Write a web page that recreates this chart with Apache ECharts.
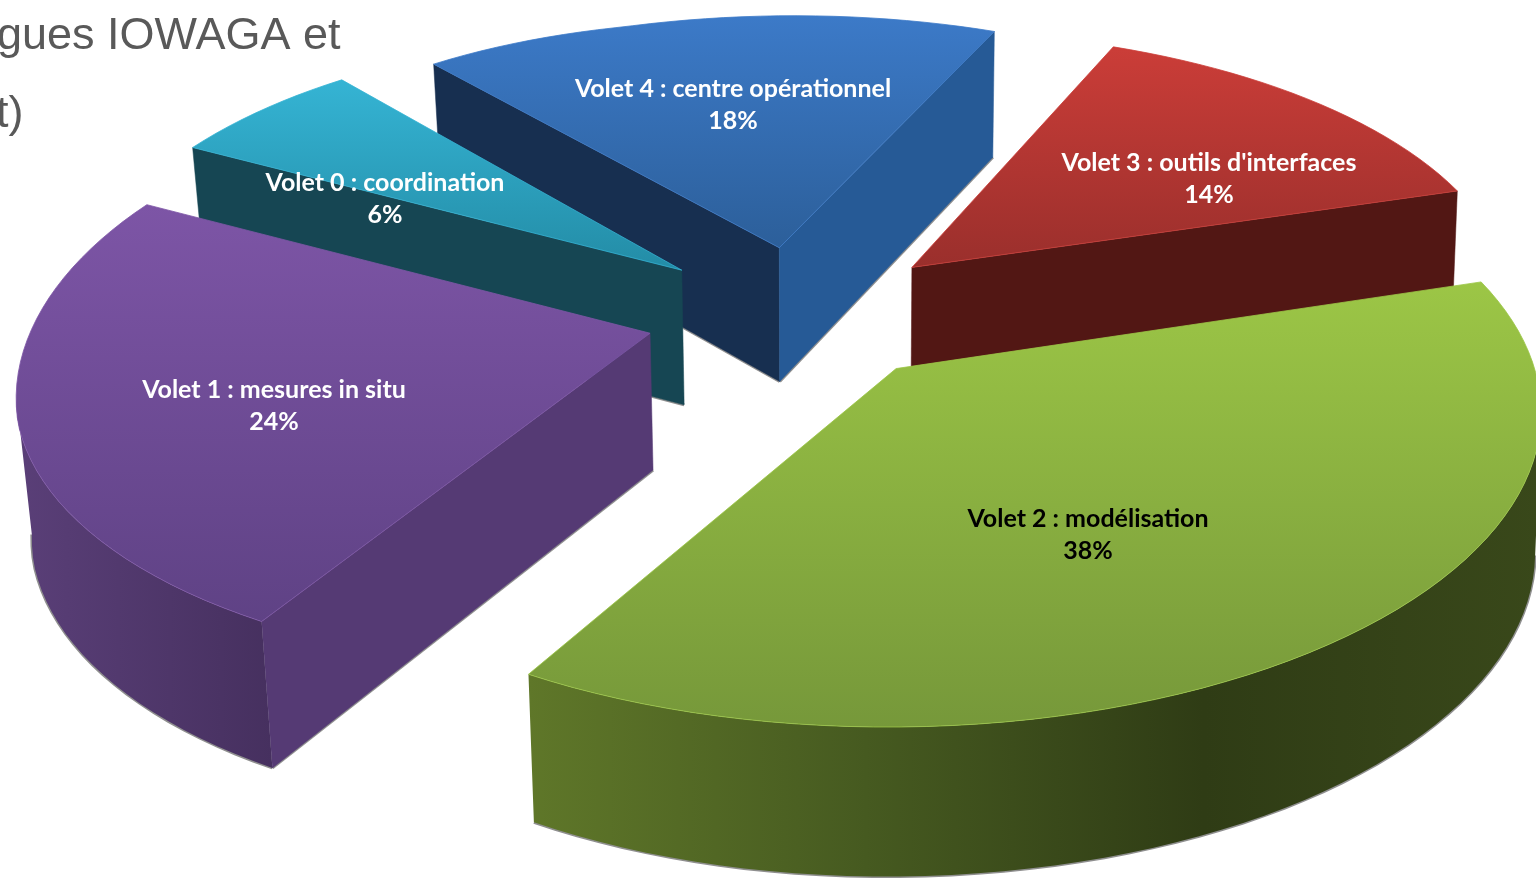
<!DOCTYPE html>
<html><head><meta charset="utf-8">
<style>html,body{margin:0;padding:0;background:#fff;overflow:hidden}#c{width:1536px;height:878px}</style>
<script src="https://cdn.jsdelivr.net/npm/echarts@6/dist/echarts.min.js"></script>
</head><body><div id="c"></div>
<script>
// ---- data ----
const categories = ["Volet 0 : coordination","Volet 1 : mesures in situ","Volet 2 : modélisation","Volet 3 : outils d'interfaces","Volet 4 : centre opérationnel"];
const shares = [6,24,38,14,18];
const backgroundTitle = ["gues IOWAGA et","t)"];

// ---- styles ----
const topStops = [["#35b4d4","#238ca6"],["#7d55a6","#5f4285"],["#9cc646","#76983a"],["#cb3d38","#9a2f2c"],["#3c7ac8","#2c5f9a"]];
const rimStops = [["#164653","#164653"],["#5a3f78","#46305f"],["#5f7729","#465a20","#2f3c15","#39481a"],["#521714","#521714"],["#265a96","#265a96"]];
const wallCols = [["#164653","#164653"],["#553a74","#553a74"],["#5f7729","#5f7729"],["#521714","#521714"],["#172f50","#265a96"]];
const labelCols = ["#fff","#fff","#000","#fff","#fff"];
const paintOrder = [2,3,4,1,0]; // z rank per slice: blue, red, teal, purple, green
const sliceShift = [[0,0],[0,0],[2,0],[0,2],[2,3]];
const sliceRadius = [1,1,1.02,1,1];

// ---- projection of the tilted pie ----
const O = {x:799,y:312}, explode = 0.25, startAngle = 244.8;
function H(x,y){
  const W=1+0.0457*x-0.135*y, q=(x<0&&y<0)?x*y:0;
  return {x:O.x+(589*x+165*y)/W+9*q,y:O.y+(-84*x+270*y)/W-14*q,W};
}
function drop(p){const h=136/Math.sqrt(p.W);const k=p.x<800?0.02:0.008;return [p.x+(800-p.x)*k,p.y+h];}
const labelTarget = [[385,199],[274,406],[1088,535],[1209,179],[733,105]];
const rad=a=>a*Math.PI/180;
const total=shares.reduce((a,b)=>a+b,0);

function grad(horizontal,c){return {type:'linear',x:0,y:0,x2:horizontal?1:0,y2:horizontal?0:1,colorStops:c.map((col,k)=>({offset:k/(c.length-1),color:col}))};}

function renderItem(params,api){
  const i=params.dataIndex, v=api.value(0);
  let before=0; for(let k=0;k<i;k++) before+=shares[k];
  const a1=startAngle-before/total*360, a0=a1-v/total*360, mid=(a0+a1)/2;
  const ex=explode*Math.cos(rad(mid)), ey=explode*Math.sin(rad(mid)), r=sliceRadius[i];
  const P=(x,y)=>{const p=H(x,y);p.x+=sliceShift[i][0];p.y+=sliceShift[i][1];return p;};
  const apex=P(ex,ey), arc=[], n=Math.max(8,Math.round((a1-a0)/2));
  for(let k=0;k<=n;k++){const a=rad(a0+(a1-a0)*k/n);arc.push(P(ex+r*Math.cos(a),ey+r*Math.sin(a)));}
  const rank=paintOrder[i]*10, children=[];
  const edge=(pts)=>children.push({type:'polyline',z2:rank,shape:{points:pts},style:{fill:null,stroke:'#8f8f8f',lineWidth:3}});
  const quad=(p,q,fill,z)=>{edge([drop(p),drop(q)]);children.push({type:'polygon',z2:rank+z,shape:{points:[[p.x,p.y],[q.x,q.y],drop(q),drop(p)]},style:{fill,stroke:fill,lineWidth:.5}});};
  // radial walls (only the ones facing the viewer)
  if(arc[0].x<apex.x) quad(apex,arc[0],wallCols[i][0],1);
  if(apex.x<arc[n].x) quad(arc[n],apex,wallCols[i][1],1);
  // outer rim
  let run=[];
  const flush=()=>{ if(run.length>1){const low=run.map(drop);edge(low);const pts=run.map(p=>[p.x,p.y]).concat(low.slice().reverse());
      children.push({type:'polygon',z2:rank+2,shape:{points:pts},style:{fill:grad(true,rimStops[i])}});} run=[]; };
  for(let k=0;k<n;k++){ if(arc[k+1].x<arc[k].x){ if(!run.length) run.push(arc[k]); run.push(arc[k+1]); } else flush(); }
  flush();
  // top face
  children.push({type:'polygon',z2:rank+3,shape:{points:[[apex.x,apex.y]].concat(arc.map(p=>[p.x,p.y]))},
    style:{fill:grad(false,topStops[i]),stroke:topStops[i][0],lineWidth:.8}});
  // label
  children.push({type:'text',z2:1000,x:labelTarget[i][0],y:labelTarget[i][1],
    style:{text:categories[i]+"\n"+Math.round(v/total*100)+"%",fill:labelCols[i],font:'700 25px Lato',lineHeight:32,align:'center',verticalAlign:'middle'}});
  return {type:'group',children};
}

const chart=echarts.init(document.getElementById('c'),null,{renderer:'canvas'});
chart.setOption({
  animation:false,
  backgroundColor:'#fff',
  graphic:[
    {type:'text',left:-3,top:14,style:{text:backgroundTitle[0],font:'45px "Liberation Sans"',fill:'#595959'}},
    {type:'text',left:-4,top:92,style:{text:backgroundTitle[1],font:'45px "Liberation Sans"',fill:'#595959'}}
  ],
  series:[{type:'custom',coordinateSystem:'none',renderItem,data:shares.map(v=>[v])}]
});
</script></body></html>
